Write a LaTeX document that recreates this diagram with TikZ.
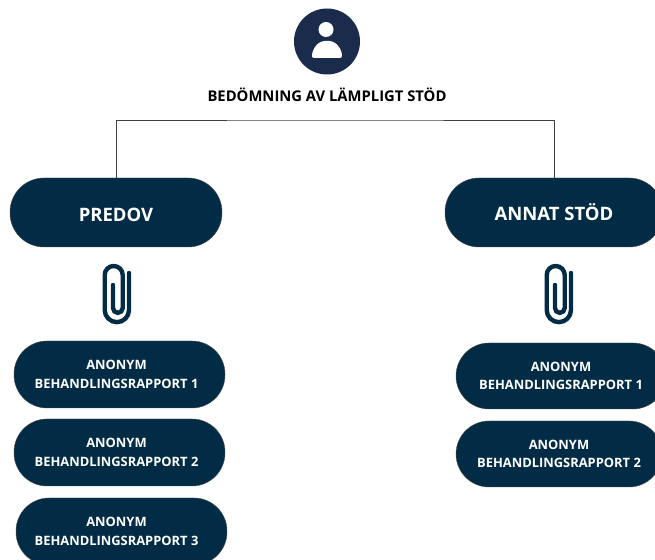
\documentclass[tikz,border=0pt]{standalone}
\usepackage{fontspec}
\setmainfont{Open Sans}
\definecolor{boxblue}{HTML}{022C45}
\definecolor{iconblue}{HTML}{1A2B4C}
\tikzset{
    bigbox/.style={draw=black!70, fill=boxblue, text=white, rounded corners=34pt, line width=.4pt,
        font=\fontsize{18.5}{20}\selectfont\bfseries, minimum height=69pt, inner sep=0pt},
    smallbox/.style={draw=black!70, fill=boxblue, text=white, rounded corners=33pt, line width=.4pt, align=center,
        font=\fontsize{12.9}{18.5}\selectfont\bfseries, minimum height=67pt, inner sep=0pt},
    paperclip/.pic={
        \draw[boxblue, line width=4.4pt, line cap=round](16,20)--(16,-17) arc(0:-180:12.15)--(-8.3,18)
            arc(180:0:9)--(9.7,-15) arc(0:-180:4.85)--(0,8);
    }
}
\begin{document}
\begin{tikzpicture}[x=1pt, y=1pt]
\path[use as bounding box, clip](0,0) rectangle (655,559);

\fill[iconblue](327,517.5) circle (33);
\fill[white](326,529.5) circle (7.5);
\fill[white, rounded corners=2pt](312,501)--(342,501) .. controls (342,510) and (336,518) .. (327,518) .. controls (318,518) and (312,510) .. (312,501)--cycle;
\node (title) at (327,464) {\fontsize{14.8}{16}\selectfont\bfseries BEDÖMNING AV LÄMPLIGT STÖD};

\node[bigbox, minimum width=212pt, text height=19pt] (predov) at (116,346.5) {PREDOV};
\node[bigbox, minimum width=218pt] (annat) at (554,346.5) {ANNAT STÖD};
\coordinate (top) at (335,439);
\draw[line width=.7pt, black!75](predov.north) |- (top) -| (annat.north);

\pic at (113,266) {paperclip};
\pic at (555,266) {paperclip};

\node[smallbox, minimum width=211pt] (leftone) at (119.5,184.5) {ANONYM\hspace*{6pt}\\BEHANDLINGSRAPPORT 1\hspace*{6pt}};
\node[smallbox, minimum width=211pt] (lefttwo) at (119.5,106.5) {ANONYM\hspace*{6pt}\\BEHANDLINGSRAPPORT 2\hspace*{6pt}};
\node[smallbox, minimum width=211pt] (leftthree) at (121.5,27.5) {ANONYM\hspace*{10pt}\\BEHANDLINGSRAPPORT 3\hspace*{10pt}};
\node[smallbox, minimum width=210pt, minimum height=66pt] (rightone) at (561,183) {ANONYM\\BEHANDLINGSRAPPORT 1};
\node[smallbox, minimum width=206pt, minimum height=66pt] (righttwo) at (559,105) {ANONYM\\BEHANDLINGSRAPPORT 2};
\end{tikzpicture}
\end{document}
